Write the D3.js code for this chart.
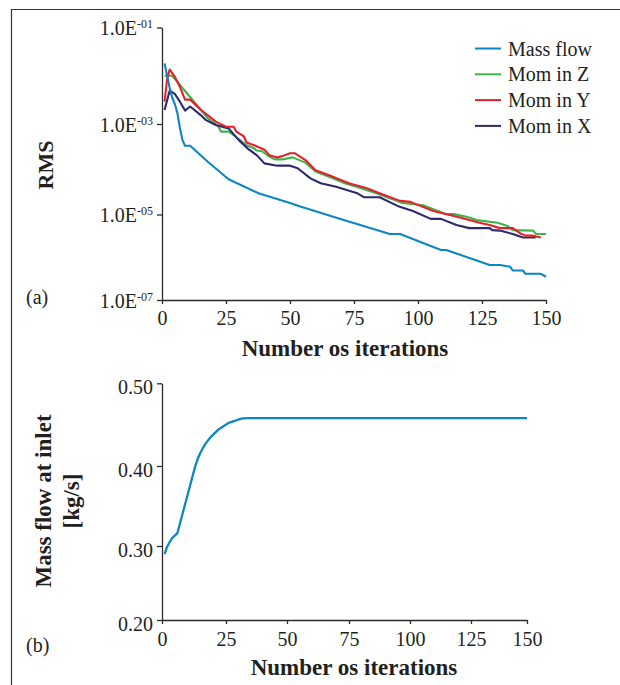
<!DOCTYPE html>
<html>
<head>
<meta charset="utf-8">
<script src="https://cdn.jsdelivr.net/npm/d3@7/dist/d3.min.js"></script>
<style>
  html, body { margin: 0; padding: 0; background: #fff; }
  svg { display: block; }
  text { font-family: "Liberation Serif", "DejaVu Serif", serif; fill: #231f20; }
  .axis path, .axis line { stroke: #2b2b2b; stroke-width: 1.3; }
  .axis text { font-family: "Liberation Serif", serif; font-size: 20px; fill: #231f20; }
</style>
</head>
<body>
<svg id="chart" width="620" height="685"></svg>
<script>
// ---------------- data ----------------
const iterTicks = [0, 25, 50, 75, 100, 125, 150];
const rmsTicks = [1e-7, 1e-5, 1e-3, 1e-1];
const massTicks = [0.20, 0.30, 0.40, 0.50];
const seriesNames = ["Mass flow", "Mom in Z", "Mom in Y", "Mom in X"];
const seriesColors = ["#0b86c2", "#3cb64b", "#e5202a", "#2a2a6c"];

// [iteration, RMS residual]
const massFlowRMS = [[1,1.8e-2],[2,1.0e-2],[3,5.6e-3],[4,3.5e-3],[5,2.6e-3],[6,1.7e-3],[7,8.2e-4],[8,4.4e-4],[9,3.3e-4],[11,3.3e-4],[18,1.45e-4],[26,6.0e-5],[38,2.9e-5],[50,1.8e-5],[54,1.5e-5],[71,7.4e-6],[89,3.5e-6],[93,3.5e-6],[109,1.48e-6],[111,1.48e-6],[128,6.6e-7],[132,6.6e-7],[136,6.0e-7],[137,4.9e-7],[141,4.9e-7],[142,4.1e-7],[148,4.1e-7],[150,3.5e-7]];
const momZRMS = [[1,1.0e-2],[4,1.0e-2],[18,1.3e-3],[22,8.9e-4],[23,6.8e-4],[26,6.8e-4],[28,5.7e-4],[33,3.4e-4],[36,2.9e-4],[37,2.6e-4],[39,2.5e-4],[42,1.9e-4],[44,1.65e-4],[47,1.65e-4],[51,1.83e-4],[56,1.4e-4],[60,8.9e-5],[66,6.6e-5],[71,5.0e-5],[76,4.1e-5],[84,2.9e-5],[94,1.8e-5],[102,1.6e-5],[111,1.02e-5],[114,1.02e-5],[119,8.9e-6],[123,7.4e-6],[131,6.4e-6],[135,5.4e-6],[137,4.3e-6],[145,4.2e-6],[146,3.5e-6],[150,3.5e-6]];
const momYRMS = [[1,2.9e-3],[2,8.5e-3],[3,1.35e-2],[5,9.5e-3],[7,5.9e-3],[9,3.2e-3],[11,3.2e-3],[15,2.0e-3],[21,1.12e-3],[25,8.7e-4],[28,8.7e-4],[29,6.8e-4],[32,5.3e-4],[33,3.9e-4],[36,3.4e-4],[40,2.7e-4],[42,2.05e-4],[45,1.82e-4],[47,1.95e-4],[50,2.25e-4],[52,2.25e-4],[56,1.6e-4],[60,9.5e-5],[66,7.1e-5],[73,4.9e-5],[80,3.8e-5],[86,2.8e-5],[93,2.0e-5],[97,1.9e-5],[106,1.2e-5],[116,8.6e-6],[124,6.4e-6],[128,5.7e-6],[132,4.8e-6],[137,4.8e-6],[140,3.6e-6],[142,3.2e-6],[145,3.2e-6],[148,2.9e-6]];
const momXRMS = [[1,1.95e-3],[3,4.9e-3],[5,4.2e-3],[7,2.9e-3],[9,1.9e-3],[11,2.3e-3],[15,1.55e-3],[17,1.22e-3],[21,9.5e-4],[26,8.0e-4],[30,4.4e-4],[34,2.7e-4],[37,2.05e-4],[40,1.35e-4],[45,1.2e-4],[50,1.2e-4],[53,1.05e-4],[58,6.3e-5],[62,4.9e-5],[68,4.1e-5],[76,3.0e-5],[79,2.4e-5],[85,2.4e-5],[92,1.55e-5],[98,1.2e-5],[105,7.9e-6],[109,7.9e-6],[115,5.7e-6],[120,4.8e-6],[128,4.8e-6],[129,4.3e-6],[132,4.2e-6],[137,3.5e-6],[141,2.9e-6],[146,2.9e-6]];

// [iteration, mass flow at inlet kg/s]
const massFlowInlet = [[1,0.289],[2,0.299],[3,0.305],[4,0.310],[5,0.313],[6,0.316],[13,0.400],[14,0.409],[15,0.416],[16,0.422],[17,0.427],[18,0.431],[19,0.435],[20,0.438],[21,0.441],[22,0.444],[23,0.446],[24,0.448],[25,0.450],[26,0.452],[27,0.453],[28,0.454],[29,0.455],[30,0.456],[31,0.457],[32,0.4575],[34,0.458],[150,0.458]];

// ---------------- drawing ----------------
const svg = d3.select("#chart");
svg.append("rect").attr("width", 620).attr("height", 685).attr("fill", "#fff");

// outer frame (top and left edges)
svg.append("path").attr("d", "M11.5,685V9.5H620")
  .attr("fill", "none").attr("stroke", "#333").attr("stroke-width", 1.2);

// ---- panel (a) ----
const x1 = d3.scaleLinear().domain([0, 150]).range([162, 546]);
const y1 = d3.scaleLog().domain(rmsTicks).range([300, 214.5, 124, 27.5]);

svg.append("g").attr("class", "axis").attr("transform", "translate(0,300)")
  .call(d3.axisBottom(x1).tickValues(iterTicks).tickSize(4).tickSizeOuter(0).tickPadding(7));
const gy1 = svg.append("g").attr("class", "axis").attr("transform", "translate(162,0)")
  .call(d3.axisLeft(y1).tickValues(rmsTicks).tickSize(5).tickSizeOuter(0).tickPadding(4).tickFormat(() => ""));
gy1.selectAll(".tick text").each(function(d) {
  const t = d3.select(this).attr("dy", "0.36em");
  const exp = Math.round(Math.log10(d));
  const expStr = (exp < 0 ? "-" : "") + String(Math.abs(exp)).padStart(2, "0");
  t.text(null);
  t.append("tspan").text("1.0E");
  t.append("tspan").attr("dy", -7).attr("font-size", 12).text(expStr);
});

const line1 = d3.line().x(d => x1(d[0])).y(d => y1(d[1]));
const rmsSeries = [massFlowRMS, momZRMS, momYRMS, momXRMS];
const drawOrder = [1, 3, 2, 0];
drawOrder.forEach(i => {
  svg.append("path").datum(rmsSeries[i]).attr("d", line1)
    .attr("fill", "none").attr("stroke", seriesColors[i]).attr("stroke-width", 2.1)
    .attr("stroke-linejoin", "round");
});

// legend
const leg = svg.append("g");
seriesNames.forEach((name, i) => {
  const yy = 48.5 + i * 25.8;
  leg.append("line").attr("x1", 475).attr("x2", 501).attr("y1", yy).attr("y2", yy)
    .attr("stroke", seriesColors[i]).attr("stroke-width", 2);
  leg.append("text").attr("x", 508).attr("y", yy).attr("dy", "0.35em")
    .attr("font-size", 20).text(name);
});

svg.append("text").attr("transform", "translate(53,165) rotate(-90)")
  .attr("text-anchor", "middle").attr("font-weight", "bold").attr("font-size", 22).text("RMS");
svg.append("text").attr("x", 26).attr("y", 304).attr("font-size", 20).text("(a)");
svg.append("text").attr("x", 345).attr("y", 356).attr("text-anchor", "middle")
  .attr("font-weight", "bold").attr("font-size", 23).text("Number os iterations");

// ---- panel (b) ----
const x2 = d3.scaleLinear().domain(iterTicks).range([162, 226, 287, 349, 410, 471, 527]);
const y2 = d3.scaleLinear().domain(massTicks).range([620, 546, 466, 383.3]);

svg.append("g").attr("class", "axis").attr("transform", "translate(0,620)")
  .call(d3.axisBottom(x2).tickValues(iterTicks).tickSize(4).tickSizeOuter(0).tickPadding(8));
svg.append("g").attr("class", "axis").attr("transform", "translate(162,0)")
  .call(d3.axisLeft(y2).tickValues(massTicks).tickSize(5).tickSizeOuter(0).tickPadding(4).tickFormat(d3.format(".2f")))
  .selectAll(".tick text").attr("dy", "0.5em");

const line2 = d3.line().x(d => x2(d[0])).y(d => y2(d[1])).curve(d3.curveLinear);
svg.append("path").datum(massFlowInlet).attr("d", line2)
  .attr("fill", "none").attr("stroke", seriesColors[0]).attr("stroke-width", 2.3)
  .attr("stroke-linejoin", "round");

svg.append("text").attr("transform", "translate(51,501) rotate(-90)")
  .attr("text-anchor", "middle").attr("font-weight", "bold").attr("font-size", 23).text("Mass flow at inlet");
svg.append("text").attr("transform", "translate(79,501) rotate(-90)")
  .attr("text-anchor", "middle").attr("font-weight", "bold").attr("font-size", 23).text("[kg/s]");
svg.append("text").attr("x", 26).attr("y", 652).attr("font-size", 20).text("(b)");
svg.append("text").attr("x", 354).attr("y", 675).attr("text-anchor", "middle")
  .attr("font-weight", "bold").attr("font-size", 23).text("Number os iterations");
</script>
</body>
</html>
